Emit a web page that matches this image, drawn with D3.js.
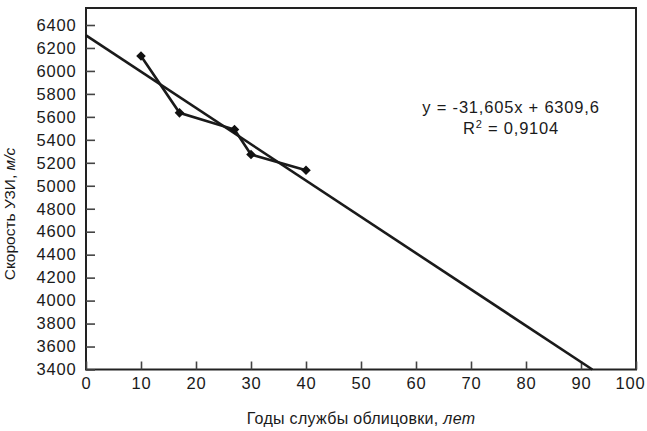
<!DOCTYPE html>
<html>
<head>
<meta charset="utf-8">
<script src="https://cdn.jsdelivr.net/npm/d3@7"></script>
<style>
  html, body { margin: 0; padding: 0; background: #fff; }
  svg { display: block; }
  text { font-family: "Liberation Sans", Arial, Helvetica, sans-serif; fill: #1a1a1a; }
</style>
</head>
<body>
<svg id="chart" width="647" height="431"></svg>
<script>
// ---- data ----
const years = [10, 17, 27, 30, 40];
const speeds = [6130, 5635, 5490, 5272, 5135];
const trendSlope = -31.605;
const trendIntercept = 6309.6;
const xTicks = [0, 10, 20, 30, 40, 50, 60, 70, 80, 90, 100];
const yTicks = [3400, 3600, 3800, 4000, 4200, 4400, 4600, 4800, 5000, 5200, 5400, 5600, 5800, 6000, 6200, 6400];
const equationLines = ["y = -31,605x + 6309,6", "R2 = 0,9104"];

// ---- layout ----
const plotL = 86, plotR = 636, plotT = 8, plotB = 369.5;
const svg = d3.select("#chart");

const x = d3.scaleLinear().domain([0, 100]).range([plotL, plotR]);
const y = d3.scaleLinear().domain([3400, 6400]).range([plotB, 25]);

const fs = 16.5;
const ls = "0.8px";

// frame
svg.append("rect")
  .attr("x", plotL).attr("y", plotT)
  .attr("width", plotR - plotL).attr("height", plotB - plotT)
  .attr("fill", "none").attr("stroke", "#222").attr("stroke-width", 2);

// y axis
const yAxis = d3.axisLeft(y).tickValues(yTicks).tickSize(-9).tickPadding(10)
  .tickFormat(d3.format("d"));
const gy = svg.append("g").attr("transform", `translate(${plotL},0)`).call(yAxis);
gy.select(".domain").remove();
gy.selectAll(".tick line").attr("stroke", "#444").attr("stroke-width", 1.6);
gy.selectAll(".tick text")
  .attr("x", -9.5)
  .style("font-size", fs + "px").style("letter-spacing", ls)
  .style("font-family", '"Liberation Sans", Arial, sans-serif').attr("fill", "#1a1a1a");

// x axis
const xAxis = d3.axisBottom(x).tickValues(xTicks).tickSize(-8).tickPadding(9)
  .tickFormat(d3.format("d"));
const gx = svg.append("g").attr("transform", `translate(0,${plotB})`).call(xAxis);
gx.select(".domain").remove();
gx.selectAll(".tick line").attr("stroke", "#444").attr("stroke-width", 1.6);
gx.selectAll(".tick text")
  .attr("y", 8)
  .style("font-size", fs + "px").style("letter-spacing", ls)
  .style("font-family", '"Liberation Sans", Arial, sans-serif').attr("fill", "#1a1a1a");
// last label is nudged left so it stays inside the picture
gx.selectAll(".tick text").filter(d => d === xTicks[xTicks.length - 1])
  .attr("text-anchor", "end").attr("x", 9);

// trend line, clipped to the visible y range
const xEnd = (3400 - trendIntercept) / trendSlope;
const trendPts = [0, xEnd].map(v => [v, trendIntercept + trendSlope * v]);
svg.append("path")
  .attr("d", d3.line().x(d => x(d[0])).y(d => y(d[1]))(trendPts))
  .attr("fill", "none").attr("stroke", "#1a1a1a").attr("stroke-width", 2.6);

// data line
const pts = years.map((v, i) => [v, speeds[i]]);
svg.append("path")
  .attr("d", d3.line().x(d => x(d[0])).y(d => y(d[1]))(pts))
  .attr("fill", "none").attr("stroke", "#1a1a1a").attr("stroke-width", 2.6);

// markers (square diamonds)
svg.selectAll(".mk").data(pts).join("path")
  .attr("class", "mk")
  .attr("transform", d => `translate(${x(d[0])},${y(d[1])}) rotate(45)`)
  .attr("d", d3.symbol().type(d3.symbolSquare).size(46)())
  .attr("fill", "#111");

// equation
svg.append("text")
  .attr("x", 511).attr("y", 113)
  .attr("text-anchor", "middle")
  .style("font-size", fs + "px").style("letter-spacing", ls)
  .text(equationLines[0]);
const r2 = svg.append("text")
  .attr("x", 511).attr("y", 134)
  .attr("text-anchor", "middle")
  .style("font-size", fs + "px").style("letter-spacing", ls);
r2.append("tspan").text(equationLines[1].slice(0, 1));
r2.append("tspan").attr("dy", -6).style("font-size", "11px").text(equationLines[1].slice(1, 2));
r2.append("tspan").attr("dy", 6).text(equationLines[1].slice(2));

// x title
const xt = svg.append("text")
  .attr("x", (plotL + plotR) / 2).attr("y", 424)
  .attr("text-anchor", "middle")
  .style("font-size", "16px").style("letter-spacing", "0.3px");
xt.append("tspan").text("Годы службы облицовки, ");
xt.append("tspan").style("font-style", "italic").text("лет");

// y title
const yt = svg.append("text")
  .attr("transform", `translate(15,214) rotate(-90)`)
  .attr("text-anchor", "middle")
  .style("font-size", "15.5px");
yt.append("tspan").text("Скорость УЗИ, ");
yt.append("tspan").style("font-style", "italic").text("м/с");
</script>
</body>
</html>
